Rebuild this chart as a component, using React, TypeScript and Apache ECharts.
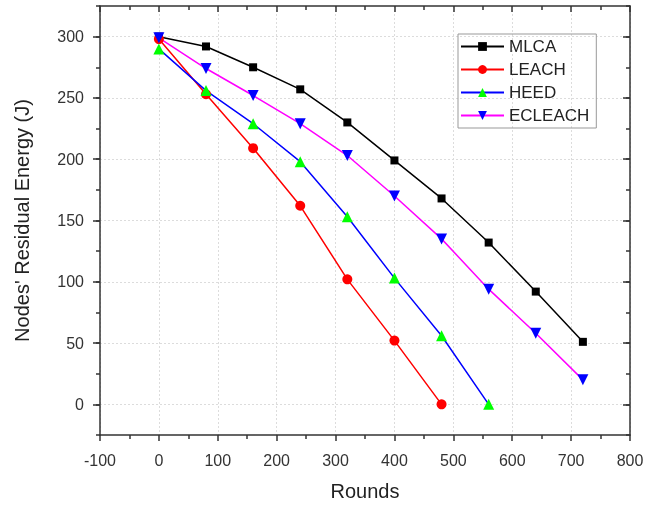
import React, { useEffect, useRef } from "react";
import * as echarts from "echarts";

const rounds = [0, 80, 160, 240, 320, 400, 480, 560, 640, 720];
const mlca = [300, 292, 275, 257, 230, 199, 168, 132, 92, 51];
const leach = [298, 253, 209, 162, 102, 52, 0];
const heed = [290, 256, 229, 198, 153, 103, 56, 0];
const ecleach = [299, 274, 252, 229, 203, 170, 135, 94, 58, 20];
const yTicks = [0, 50, 100, 150, 200, 250, 300];

const pair = (vals: number[]) => vals.map((v, i) => [rounds[i], v]);

export default function App() {
  const ref = useRef<HTMLDivElement>(null);
  useEffect(() => {
    const chart = echarts.init(ref.current!, null, { renderer: "svg" });
    const font = "Liberation Sans, Arial, sans-serif";
    const axisLine = { show: true, onZero: false, lineStyle: { color: "#333", width: 1.5 } };
    const noLine = { show: false, onZero: false };
    const tickStyle = { color: "#333", width: 1.5 };
    chart.setOption({
      animation: false,
      textStyle: { fontFamily: font },
      grid: { left: 100, right: 19, top: 6, bottom: 69 },
      legend: {
        left: 458,
        top: 34,
        orient: "vertical",
        itemWidth: 43,
        itemHeight: 11,
        itemGap: 6,
        borderColor: "#999",
        borderWidth: 1,
        padding: [4, 7, 4, 2],
        textStyle: { fontSize: 17, color: "#222", fontFamily: font },
        data: ["MLCA", "LEACH", "HEED", "ECLEACH"],
      },
      xAxis: [
        {
          type: "value",
          min: -100,
          max: 800,
          interval: 100,
          position: "bottom",
          name: "Rounds",
          nameLocation: "middle",
          nameGap: 46,
          nameTextStyle: { fontSize: 20, color: "#222" },
          axisLine,
          axisTick: { show: true, length: 6, lineStyle: tickStyle },
          minorTick: { show: true, splitNumber: 2, length: 4, lineStyle: tickStyle },
          axisLabel: { fontSize: 16, color: "#333", margin: 17 },
          splitLine: { show: true, lineStyle: { color: "#dcdcdc", type: [2, 2] } },
        },
        {
          type: "value",
          min: -100,
          max: 800,
          interval: 100,
          position: "top",
          axisLine,
          axisTick: { show: true, inside: true, length: 6, lineStyle: tickStyle },
          minorTick: { show: true, splitNumber: 2, length: 4, lineStyle: tickStyle },
          axisLabel: { show: false },
          splitLine: { show: false },
        },
      ],
      yAxis: [
        {
          type: "value",
          min: -25,
          max: 325,
          position: "left",
          name: "Nodes' Residual Energy (J)",
          nameLocation: "middle",
          nameGap: 68,
          nameTextStyle: { fontSize: 20, color: "#222" },
          axisLine,
          axisTick: { show: true, length: 7, customValues: yTicks, lineStyle: tickStyle },
          axisLabel: { fontSize: 16, color: "#333", margin: 16, customValues: yTicks },
          splitLine: { show: true, lineStyle: { color: "#dcdcdc", type: [2, 2] } },
        },
        {
          type: "value",
          min: -25,
          max: 325,
          interval: 25,
          position: "left",
          axisLine: noLine,
          axisTick: { show: true, length: 4, lineStyle: tickStyle },
          axisLabel: { show: false },
          splitLine: { show: false },
        },
        {
          type: "value",
          min: -25,
          max: 325,
          position: "right",
          axisLine,
          axisTick: { show: true, inside: true, length: 7, customValues: yTicks, lineStyle: tickStyle },
          axisLabel: { show: false, customValues: yTicks },
          splitLine: { show: false },
        },
        {
          type: "value",
          min: -25,
          max: 325,
          interval: 25,
          position: "right",
          axisLine: noLine,
          axisTick: { show: true, inside: true, length: 4, lineStyle: tickStyle },
          axisLabel: { show: false },
          splitLine: { show: false },
        },
      ],
      series: [
        {
          name: "MLCA",
          type: "line",
          data: pair(mlca),
          symbol: "rect",
          symbolSize: 8,
          lineStyle: { color: "#000", width: 1.5 },
          itemStyle: { color: "#000" },
        },
        {
          name: "LEACH",
          type: "line",
          data: pair(leach),
          symbol: "circle",
          symbolSize: 10,
          lineStyle: { color: "#ff0000", width: 1.5 },
          itemStyle: { color: "#ff0000" },
        },
        {
          name: "HEED",
          type: "line",
          data: pair(heed),
          symbol: "triangle",
          symbolSize: 11,
          lineStyle: { color: "#0000ff", width: 1.5 },
          itemStyle: { color: "#00ff00" },
        },
        {
          name: "ECLEACH",
          type: "line",
          data: pair(ecleach),
          symbol: "triangle",
          symbolRotate: 180,
          symbolSize: 11,
          lineStyle: { color: "#ff00ff", width: 1.5 },
          itemStyle: { color: "#0000ff" },
        },
      ],
    });
    return () => chart.dispose();
  }, []);
  return (
    <div
      ref={ref}
      style={{ position: "fixed", left: 0, top: 0, width: 649, height: 506 }}
    />
  );
}
